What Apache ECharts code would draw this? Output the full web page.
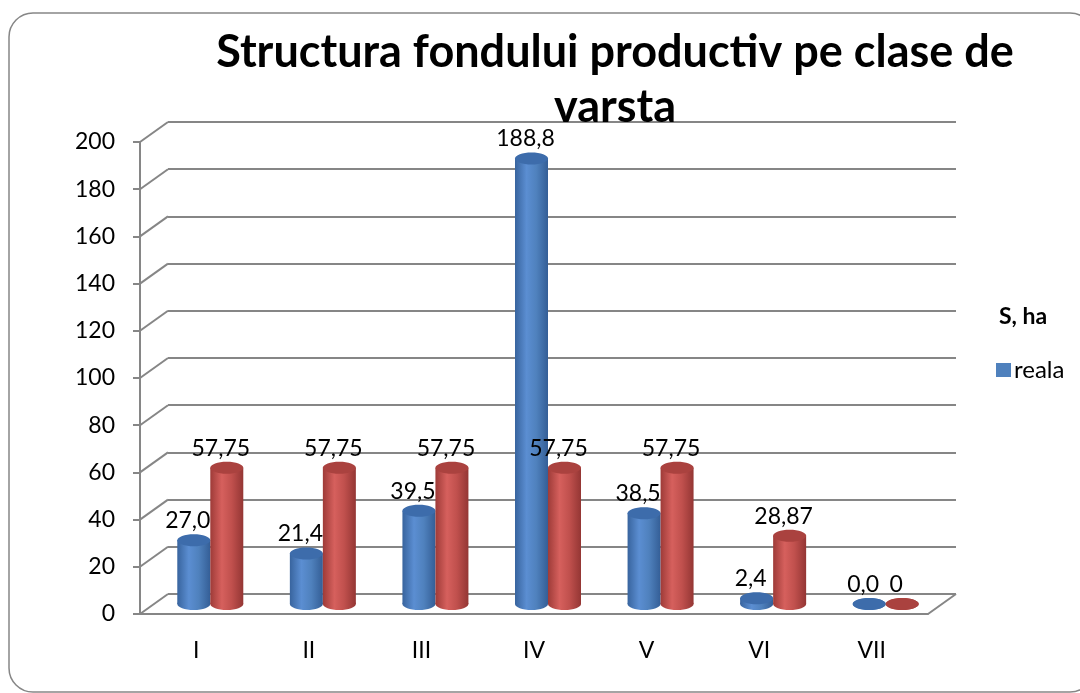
<!DOCTYPE html>
<html>
<head>
<meta charset="utf-8">
<script src="https://cdn.jsdelivr.net/npm/echarts@6/dist/echarts.min.js"></script>
<style>
  html, body { margin: 0; padding: 0; background: #fff; }
  #chart { width: 1080px; height: 693px; }
</style>
</head>
<body>
<div id="chart"></div>
<script>
// data
var categories = ['I', 'II', 'III', 'IV', 'V', 'VI', 'VII']
var realaValues = [27.0, 21.4, 39.5, 188.8, 38.5, 2.4, 0.0]
var normalaValues = [57.75, 57.75, 57.75, 57.75, 57.75, 28.87, 0]
var yTicks = [0, 20, 40, 60, 80, 100, 120, 140, 160, 180, 200]

// 3d look: back wall offset from the front axes
var depthX = 28
var depthY = 20
var font = 'Lato, "Liberation Sans", sans-serif'

var chart = echarts.init(document.getElementById('chart'))

function toPairs(arr) {
  return arr.map(function(v, i) { return [i, v] })
}

function cylinder(side, body, topColor, fmt) {
  return function(params, api) {
    var cat = api.value(0)
    var v = api.value(1)
    var base = api.coord([cat, 0])
    var top = api.coord([cat, v])
    var w = 33
    var ry = 6
    var cx = base[0] + side * w / 2
    var grad = { type: 'linear', x: 0, y: 0, x2: 1, y2: 0, colorStops: body }
    var children = [
      { type: 'ellipse', shape: { cx: cx, cy: base[1], rx: w / 2, ry: ry }, style: { fill: grad } }
    ]
    if (base[1] - top[1] > 0.5) {
      children.push({ type: 'rect', shape: { x: cx - w / 2, y: top[1], width: w, height: base[1] - top[1] }, style: { fill: grad } })
    }
    children.push({ type: 'ellipse', shape: { cx: cx, cy: top[1], rx: w / 2, ry: ry }, style: { fill: topColor } })
    children.push({
      type: 'text',
      x: cx - 6,
      y: top[1] - ry - 2,
      style: { text: fmt(v), fill: '#000', font: '23px ' + font, align: 'center', verticalAlign: 'bottom' }
    })
    return { type: 'group', children: children }
  }
}

var blueBody = [
  { offset: 0, color: '#38649E' },
  { offset: 0.35, color: '#5B8ED2' },
  { offset: 0.65, color: '#4F81BD' },
  { offset: 1, color: '#345E96' }
]
var redBody = [
  { offset: 0, color: '#9E3B38' },
  { offset: 0.35, color: '#D6605D' },
  { offset: 0.65, color: '#C0504D' },
  { offset: 1, color: '#943634' }
]

chart.setOption({
  backgroundColor: '#fff',
  animation: false,
  graphic: [{
    type: 'rect',
    shape: { x: 9, y: 13, width: 1085, height: 679, r: 24 },
    style: { fill: 'none', stroke: '#868686', lineWidth: 1.5 },
    z: -10
  }],
  title: [{
    text: 'Structura fondului productiv pe clase de\nvarsta',
    left: 610,
    top: 20,
    textAlign: 'center',
    textStyle: { fontFamily: font, fontWeight: 'bold', fontSize: 45, lineHeight: 55, color: '#000' }
  }, {
    text: 'S, ha',
    left: 994,
    top: 300,
    textStyle: { fontFamily: font, fontWeight: 'bold', fontSize: 23, color: '#000' }
  }],
  legend: {
    data: ['reala'],
    left: 991,
    top: 353,
    icon: 'rect',
    itemWidth: 15,
    itemHeight: 14,
    itemGap: 4,
    textStyle: { fontFamily: font, fontSize: 24, color: '#000', padding: [0, 0, 0, -2] }
  },
  grid: [
    { left: 140, top: 142, width: 788, height: 472 },
    { left: 140 + depthX, top: 142 - depthY, width: 788, height: 472 },
    { left: 140 + depthX / 2, top: 142 - depthY / 2, width: 788, height: 472 }
  ],
  xAxis: [{
    gridIndex: 0,
    type: 'category',
    data: categories,
    axisLine: { lineStyle: { color: '#868686', width: 2 } },
    axisTick: { length: 8, lineStyle: { color: '#868686', width: 2 } },
    axisLabel: { margin: 25, fontFamily: font, fontSize: 23, color: '#000' }
  }, {
    gridIndex: 1,
    type: 'category',
    data: categories,
    show: false
  }, {
    gridIndex: 2,
    type: 'category',
    data: categories,
    show: false
  }],
  yAxis: [{
    gridIndex: 0,
    type: 'value',
    min: 0,
    max: 200,
    interval: 20,
    axisLine: { show: true, lineStyle: { color: '#868686', width: 2 } },
    axisTick: { show: true, length: 7, lineStyle: { color: '#868686', width: 2 } },
    axisLabel: { margin: 25, fontFamily: font, fontSize: 23, color: '#000' },
    splitLine: { show: false }
  }, {
    gridIndex: 1,
    type: 'value',
    min: 0,
    max: 200,
    interval: 20,
    axisLine: { show: false },
    axisTick: { show: false },
    axisLabel: { show: false },
    splitLine: { show: true, lineStyle: { color: '#868686', width: 2 } }
  }, {
    gridIndex: 2,
    type: 'value',
    min: 0,
    max: 200,
    show: false
  }],
  series: [{
    // diagonal edges from the front axis to the back wall
    type: 'custom',
    xAxisIndex: 0,
    yAxisIndex: 0,
    silent: true,
    data: yTicks.map(function(v) { return [0, v] }).concat([[1, 0]]),
    renderItem: function(params, api) {
      var p = api.coord([0, api.value(1)])
      var cs = params.coordSys
      var x0 = api.value(0) === 1 ? cs.x + cs.width : cs.x
      return {
        type: 'line',
        shape: { x1: x0, y1: p[1], x2: x0 + depthX, y2: p[1] - depthY },
        style: { stroke: '#868686', lineWidth: 2 }
      }
    }
  }, {
    name: 'reala',
    type: 'custom',
    xAxisIndex: 2,
    yAxisIndex: 2,
    itemStyle: { color: '#4F81BD' },
    encode: { x: 0, y: 1 },
    data: toPairs(realaValues),
    renderItem: cylinder(-1, blueBody, '#3D6CAB', function(v) { return v.toFixed(1).replace('.', ',') }),
    z: 3
  }, {
    name: 'normala',
    type: 'custom',
    xAxisIndex: 2,
    yAxisIndex: 2,
    itemStyle: { color: '#C0504D' },
    encode: { x: 0, y: 1 },
    data: toPairs(normalaValues),
    renderItem: cylinder(1, redBody, '#AA423F', function(v) { return String(v).replace('.', ',') }),
    z: 3
  }]
})
</script>
</body>
</html>
